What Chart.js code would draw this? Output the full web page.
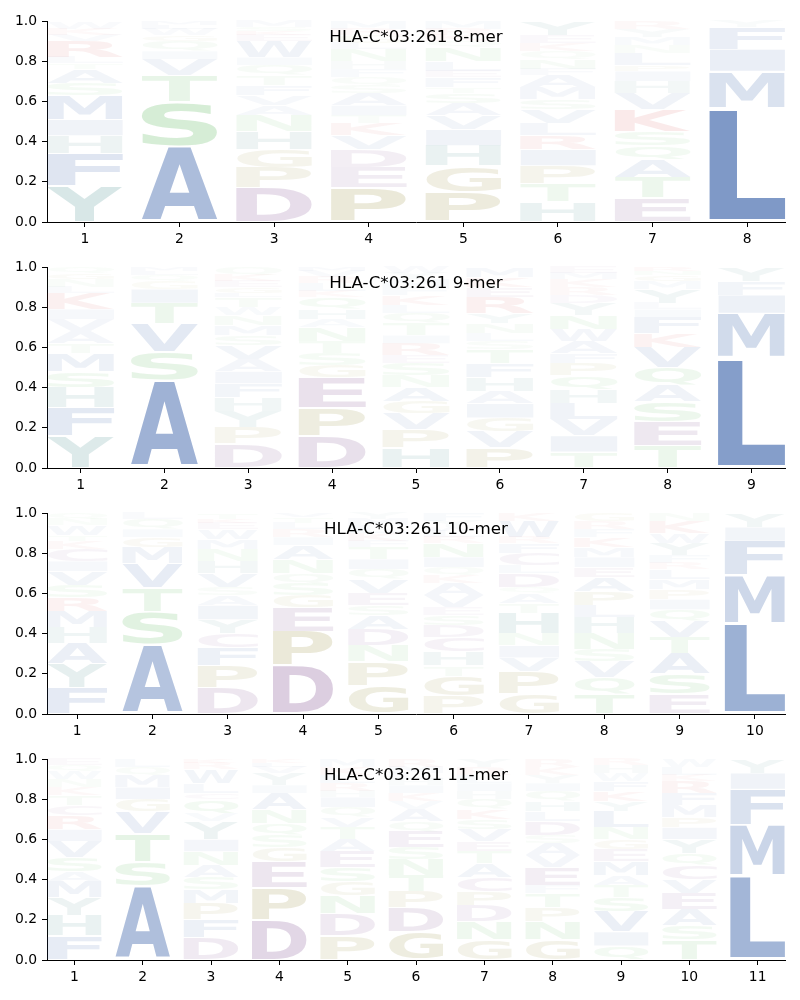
<!DOCTYPE html>
<html>
<head>
<meta charset="utf-8">
<script src="https://cdn.jsdelivr.net/npm/chart.js@4.4.7/dist/chart.umd.min.js"></script>
<style>
  body { margin: 0; background: #fff; width: 800px; height: 1000px; overflow: hidden; }
  canvas { display: block; }
</style>
</head>
<body>
<canvas id="logo8" width="800" height="246"></canvas>
<canvas id="logo9" width="800" height="246"></canvas>
<canvas id="logo10" width="800" height="246"></canvas>
<canvas id="logo11" width="800" height="246"></canvas>
<script>
    // letters per position, bottom to top, with their stack heights
    var titles = ["HLA-C*03:261 8-mer", "HLA-C*03:261 9-mer", "HLA-C*03:261 10-mer", "HLA-C*03:261 11-mer"];
    var yTicks = [0, 0.2, 0.4, 0.6, 0.8, 1.0];

    var letters8 = ["YFHIMSATLRVKW", "ASTVIQGWLM", "DPGHNAVFTQIWEKSM", "PEDVKTIASQFHNLGRM",
      "PGHIVASTFELNQKRM", "HTPIRLVSMAFNQKEY", "ETAQSKVHIPLNMYR", "LMIFY"];
    var heights8 = [
      [.18, .16, .09, .08, .12, .06, .07, .03, .03, .08, .03, .03, .03],
      [.38, .22, .13, .08, .04, .05, .03, .03, .02, .02],
      [.17, .10, .09, .09, .08, .05, .05, .05, .05, .05, .04, .08, .03, .02, .02, .03],
      [.17, .10, .09, .07, .06, .04, .05, .06, .04, .04, .04, .04, .06, .03, .04, .03, .04],
      [.15, .13, .10, .08, .07, .06, .05, .03, .05, .03, .05, .07, .03, .03, .03, .04],
      [.10, .09, .09, .08, .07, .06, .07, .05, .06, .06, .03, .05, .04, .04, .04, .07],
      [.12, .10, .09, .07, .07, .11, .08, .06, .05, .03, .06, .04, .04, .04, .04],
      [.57, .18, .11, .11, .03]
    ];

    var letters9 = ["YFHSMTAVIKLNGQ", "ASVTIGQLM", "DPYHFIAVSMNWTLGEKQ", "DPEGSTNAHQKLRVM",
      "HPVGANSERITQLKFMYW", "PVGIAHFTSLNYREKM", "TIVLHQPFAWNYDRKME", "TESAQVKFILYMGNR", "LMIFY"];
    var heights9 = [
      [.16, .14, .10, .08, .09, .05, .06, .06, .05, .08, .03, .04, .03, .03],
      [.44, .14, .14, .10, .07, .04, .03, .02, .02],
      [.12, .08, .08, .07, .07, .06, .06, .07, .05, .05, .05, .04, .05, .02, .03, .03, .03, .04],
      [.16, .14, .15, .06, .06, .06, .07, .04, .05, .06, .03, .04, .03, .03, .02],
      [.10, .09, .08, .06, .07, .06, .06, .04, .06, .04, .06, .05, .04, .05, .04, .04, .03, .03],
      [.10, .08, .07, .07, .06, .07, .07, .07, .04, .04, .05, .05, .08, .05, .05, .05],
      [.08, .08, .08, .08, .07, .07, .06, .05, .06, .06, .07, .06, .04, .04, .04, .03, .03],
      [.11, .12, .10, .08, .09, .10, .07, .08, .04, .03, .07, .04, .03, .02, .02],
      [.55, .22, .09, .07, .07]
    ];

    var letters10 = ["FYAHMRSVICKTWNQ", "ASTVMGIQL", "DPFCYIASVHNMWEKT", "DPEGSQNAIRLTV",
      "GPNDASEVQITFKLMY", "PGTHCDSEVAKQINRLWYF", "GPVINHTAQDLCFRWK", "TQVSNHLPAEIMKFRG",
      "ESATVQIPMLRFYWKN", "LMFIY"];
    var heights10 = [
      [.13, .12, .10, .08, .08, .07, .06, .07, .05, .06, .04, .03, .05, .03, .03],
      [.345, .165, .12, .12, .08, .05, .04, .05, .03],
      [.13, .11, .09, .07, .07, .07, .05, .04, .07, .06, .06, .05, .05, .03, .02, .03],
      [.24, .17, .12, .06, .06, .05, .07, .07, .04, .04, .03, .03, .02],
      [.14, .12, .08, .08, .07, .05, .06, .07, .05, .05, .06, .03, .04, .04, .03, .03],
      [.09, .10, .05, .07, .07, .06, .05, .04, .06, .06, .04, .04, .05, .07, .03, .03, .02, .03, .04],
      [.10, .11, .07, .06, .06, .10, .05, .05, .03, .07, .04, .06, .05, .03, .08, .04],
      [.10, .08, .08, .06, .08, .08, .06, .07, .07, .05, .05, .05, .05, .04, .04, .04],
      [.10, .10, .10, .08, .08, .06, .05, .05, .05, .05, .03, .04, .06, .05, .06, .04],
      [.45, .24, .17, .07, .07]
    ];

    var letters11 = ["FHYMASVIRCTKNWQE", "ASTVGIMQL", "DFPMSANIYVQCLWRK", "DPEGSQNAIYVLK",
      "PDNGSEATVQIHRLKM", "GDPTNSEQAVKIHLMR", "GNDPCATEVSKQHILRY", "GNPTFEVASDLHQIYKR",
      "QIVSTAMEGNLYKFWHR", "TSAEVCQYIPMFRKLW", "LMFIY"];
    var heights11 = [
      [.12, .10, .09, .08, .05, .07, .08, .06, .07, .05, .05, .04, .04, .04, .03, .03],
      [.37, .12, .14, .11, .06, .06, .06, .04, .04],
      [.11, .09, .08, .07, .06, .06, .07, .06, .09, .04, .07, .03, .05, .07, .03, .02],
      [.20, .16, .13, .07, .06, .06, .07, .08, .04, .06, .03, .02, .02],
      [.12, .11, .09, .07, .07, .08, .06, .06, .05, .05, .05, .03, .04, .04, .04, .04],
      [.14, .12, .08, .08, .08, .06, .08, .05, .06, .04, .04, .04, .03, .03, .03, .04],
      [.10, .09, .08, .07, .07, .07, .06, .05, .06, .05, .05, .05, .04, .04, .04, .04, .04],
      [.10, .09, .07, .07, .04, .09, .06, .06, .04, .07, .05, .05, .05, .04, .04, .04, .04],
      [.07, .07, .10, .07, .06, .05, .07, .06, .05, .06, .08, .05, .05, .05, .04, .04, .03],
      [.10, .07, .08, .08, .07, .07, .06, .07, .06, .05, .06, .06, .06, .03, .04, .04],
      [.42, .25, .18, .08, .07]
    ];

    // colour groups (base rgb, faded by letter height)
    var groupColors = {
      blue: [60, 100, 170], teal: [50, 125, 125], green: [80, 180, 80],
      purple: [118, 65, 135], olive: [140, 130, 40], red: [210, 60, 60]
    };
    var letterGroups = { blue: "AVLIMFW", teal: "HY", green: "STNQ", purple: "DEC", olive: "PG", red: "KR" };

    var tickFont = { family: "DejaVu Sans", size: 13.9 };
    var glyphFont = "bold 100px 'DejaVu Sans'";
    var glyphCache = {};

    function colorFor(ch, h) {
      var rgb = [0, 0, 0];
      Object.keys(letterGroups).forEach(function (g) {
        if (letterGroups[g].indexOf(ch) >= 0) rgb = groupColors[g];
      });
      var a = Math.min(1, Math.max(0.03, 1.2 * Math.pow(h, 1.08)));
      return "rgba(" + rgb[0] + "," + rgb[1] + "," + rgb[2] + "," + a.toFixed(3) + ")";
    }

    function glyphBox(ctx, ch) {
      if (!glyphCache[ch]) {
        ctx.save();
        ctx.font = glyphFont;
        var m = ctx.measureText(ch);
        glyphCache[ch] = {
          l: m.actualBoundingBoxLeft, r: m.actualBoundingBoxRight,
          a: m.actualBoundingBoxAscent, d: m.actualBoundingBoxDescent
        };
        ctx.restore();
      }
      return glyphCache[ch];
    }

    function drawGlyph(ctx, ch, left, top, w, h, color) {
      if (w <= 0 || h <= 0.2) return;
      var pad = h * 0.025;
      top += pad;
      h -= 2 * pad;
      var g = glyphBox(ctx, ch);
      ctx.save();
      ctx.translate(left, top + h);
      ctx.scale(w / (g.l + g.r), h / (g.a + g.d));
      ctx.font = glyphFont;
      ctx.textAlign = "left";
      ctx.textBaseline = "alphabetic";
      ctx.fillStyle = color;
      ctx.fillText(ch, g.l, -g.d);
      ctx.restore();
    }

    var logoPlugin = {
      id: "logoLetters",
      afterDatasetsDraw: function (chart, args, opts) {
        var ctx = chart.ctx;
        var area = chart.chartArea;
        chart.data.datasets.forEach(function (ds, di) {
          var meta = chart.getDatasetMeta(di);
          meta.data.forEach(function (bar, i) {
            var p = bar.getProps(["x", "y", "base", "width"], true);
            var pt = ds.data[i];
            drawGlyph(ctx, pt.ch, p.x - p.width / 2, Math.min(p.y, p.base),
              p.width, Math.abs(p.base - p.y), colorFor(pt.ch, pt.y));
          });
        });
        ctx.save();
        ctx.font = "16.7px 'DejaVu Sans'";
        ctx.fillStyle = "#000";
        ctx.textAlign = "center";
        ctx.textBaseline = "alphabetic";
        ctx.fillText(opts.title, (area.left + area.right) / 2, area.top + 20.5);
        ctx.restore();
      }
    };

    function buildDatasets(letters, heights) {
      var depth = Math.max.apply(null, letters.map(function (s) { return s.length; }));
      var sets = [];
      for (var k = 0; k < depth; k++) {
        var data = [];
        letters.forEach(function (s, p) {
          if (k < s.length) data.push({ x: p + 1, y: heights[p][k], ch: s[k] });
        });
        sets.push({
          data: data,
          backgroundColor: "rgba(0,0,0,0)",
          borderWidth: 0,
          categoryPercentage: 0.8,
          barPercentage: 1.0,
        });
      }
      return sets;
    }

    function renderLogo(id, title, letters, heights) {
      var positions = letters.map(function (s, i) { return i + 1; });
      new Chart(document.getElementById(id), {
        type: "bar",
        data: { datasets: buildDatasets(letters, heights) },
        plugins: [logoPlugin],
        options: {
          responsive: false,
          animation: false,
          events: [],
          layout: { padding: { top: 21, right: 15, bottom: 0, left: 0 } },
          plugins: {
            legend: { display: false },
            tooltip: { enabled: false },
            logoLetters: { title: title },
          },
          scales: {
            x: {
              type: "linear",
              stacked: true,
              offset: false,
              min: 0.6,
              max: letters.length + 0.4,
              afterBuildTicks: function (s) { s.ticks = positions.map(function (v) { return { value: v }; }); },
              afterFit: function (s) { s.height = 24; },
              ticks: {
                color: "#000", font: tickFont, padding: 4, autoSkip: false, maxRotation: 0,
                callback: function (v) { return String(v); },
              },
              grid: { offset: false, drawOnChartArea: false, tickLength: 5, color: "#000" },
              border: { color: "#000", width: 1 },
            },
            y: {
              stacked: true,
              min: 0,
              max: 1,
              afterBuildTicks: function (s) { s.ticks = yTicks.map(function (v) { return { value: v }; }); },
              afterFit: function (s) { s.width = 47; },
              ticks: {
                color: "#000", font: tickFont, padding: 5,
                callback: function (v) { return v.toFixed(1); },
              },
              grid: { drawOnChartArea: false, tickLength: 5, color: "#000" },
              border: { color: "#000", width: 1 },
            },
          },
        },
      });
    }

    renderLogo("logo8", titles[0], letters8, heights8);
    renderLogo("logo9", titles[1], letters9, heights9);
    renderLogo("logo10", titles[2], letters10, heights10);
    renderLogo("logo11", titles[3], letters11, heights11);
</script>
</body>
</html>
